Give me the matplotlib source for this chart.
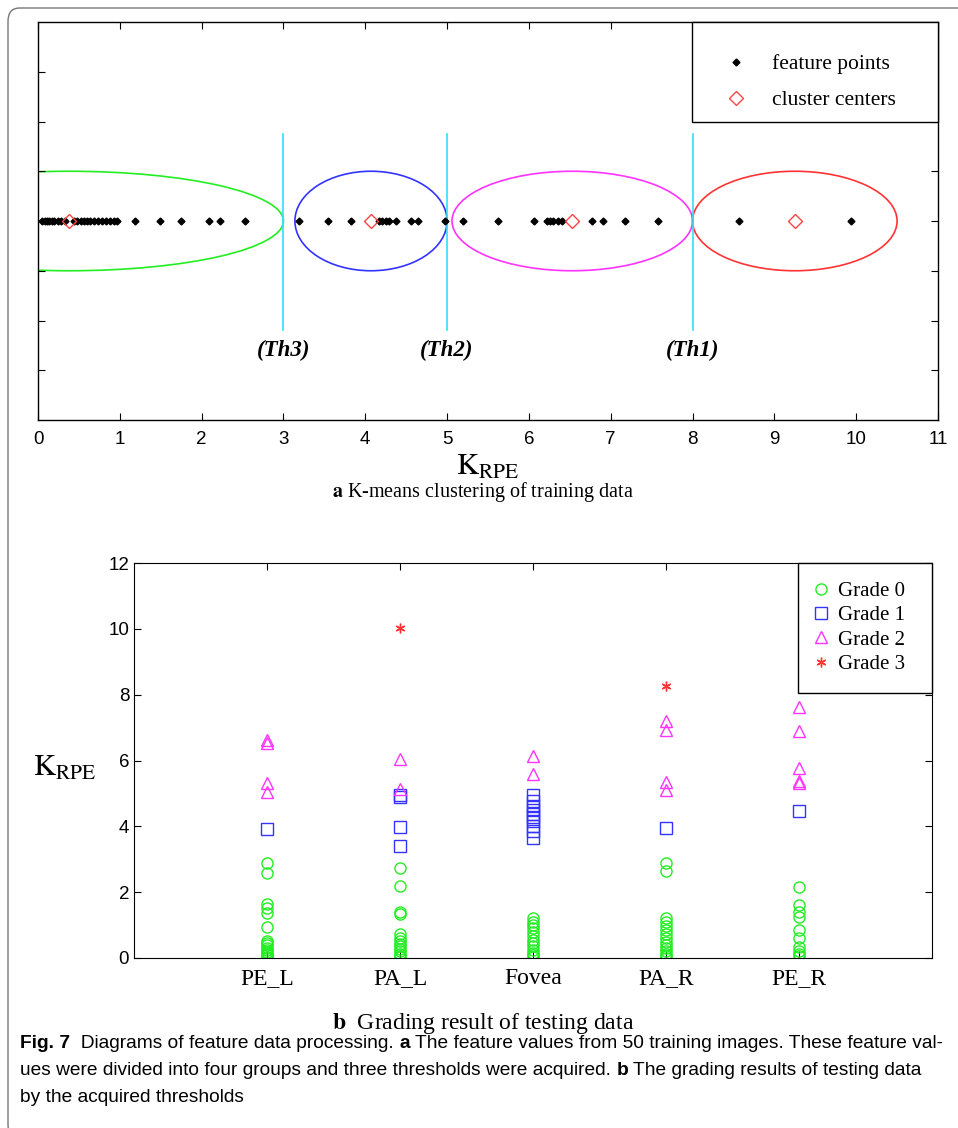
import numpy as np
import matplotlib.pyplot as plt
from matplotlib.patches import Ellipse, FancyBboxPatch

plt.rcParams['mathtext.fontset'] = 'stix'
serif = ['Liberation Serif', 'DejaVu Serif']
narrow = ['Liberation Sans Narrow', 'Liberation Sans', 'DejaVu Sans']

# ---- panel a data ----
feature_points = [0.05, 0.08, 0.11, 0.14, 0.17, 0.2, 0.24, 0.28, 0.33, 0.44, 0.48, 0.52,
                  0.56, 0.6, 0.64, 0.69, 0.73, 0.78, 0.83, 0.88, 0.93, 0.97,
                  1.19, 1.49, 1.75, 2.09, 2.23, 2.53,
                  3.19, 3.55, 3.83, 4.17, 4.21, 4.25, 4.29, 4.38, 4.56, 4.64, 4.98,
                  5.19, 5.62, 6.06, 6.22, 6.26, 6.30, 6.35, 6.40, 6.77, 6.90, 7.18, 7.58,
                  8.57, 9.94]
cluster_centers = [0.38, 4.07, 6.53, 9.25]
thresholds = [3.0, 5.0, 8.0]
threshold_names = ['Th3', 'Th2', 'Th1']
ellipse_colors = ['#22ee22', '#3333ff', '#ff33ff', '#ff3333']

# ---- panel b data ----
regions = ['PE_L', 'PA_L', 'Fovea', 'PA_R', 'PE_R']
grade0 = [
    [2.89, 2.57, 1.64, 1.52, 1.38, 0.95, 0.52, 0.45, 0.38, 0.31, 0.25, 0.19, 0.13, 0.08, 0.04, 0.01],
    [2.73, 2.20, 1.39, 1.34, 0.72, 0.62, 0.52, 0.43, 0.35, 0.27, 0.2, 0.13, 0.07, 0.02],
    [1.22, 1.1, 1.0, 0.9, 0.78, 0.66, 0.55, 0.45, 0.35, 0.25, 0.16, 0.08, 0.02],
    [2.88, 2.64, 1.22, 1.1, 0.98, 0.85, 0.72, 0.6, 0.5, 0.4, 0.3, 0.2, 0.12, 0.05, 0.01],
    [2.17, 1.61, 1.41, 1.26, 0.85, 0.6, 0.34, 0.22, 0.12, 0.05],
]
grade1 = [
    [3.92],
    [4.95, 4.88, 3.97, 3.40],
    [4.95, 4.78, 4.62, 4.5, 4.38, 4.28, 4.15, 4.02, 3.85, 3.65],
    [3.94],
    [4.47],
]
grade2 = [
    [6.63, 6.53, 5.32, 5.05],
    [6.04, 5.13],
    [6.15, 5.58],
    [7.2, 6.93, 5.36, 5.1],
    [7.62, 6.91, 5.77, 5.39, 5.31],
]
grade3 = [[], [10.03], [], [8.27], []]

W, H = 958, 1128
fig = plt.figure(figsize=(W / 100, H / 100), dpi=100)

def px_axes(l, t, r, b):
    return fig.add_axes([l / W, 1 - b / H, (r - l) / W, (b - t) / H])

# outer frame
fig.patches.append(FancyBboxPatch((8 / W, -10 / H), 1.2, 1130 / H, boxstyle='round,pad=0,rounding_size=0.012',
                                  transform=fig.transFigure, fill=False, ec='#777777', lw=1.0))

# ---------------- panel a ----------------
ax = px_axes(38, 22, 938, 420)
ax.set_xlim(0, 11)
ax.set_ylim(-4, 4)
for i, (c, col) in enumerate(zip(cluster_centers, ellipse_colors)):
    lower = thresholds[i - 1] if i > 0 else None
    upper = thresholds[i] if i < len(thresholds) else None
    half = min([abs(t - c) for t in (lower, upper) if t is not None])
    ax.add_patch(Ellipse((c, 0), 2 * half, 2, fill=False, ec=col, lw=1.2))
for t, name in zip(thresholds, threshold_names):
    ax.plot([t, t], [-2.2, 1.75], color='#33ddff', lw=1.2)
    ax.text(t, -2.6, '(%s)' % name, ha='center', va='center', fontsize=16.5, family=serif,
            style='italic', weight='bold')
ax.plot(feature_points, np.zeros(len(feature_points)), 'D', color='k', ms=3.5, ls='none', label='feature points')
ax.plot(cluster_centers, np.zeros(len(cluster_centers)), 'D', mfc='none', mec='#ff4444', ms=7, mew=1.0,
        ls='none', label='cluster centers')
ax.set_xticks(range(12))
ax.set_yticks(range(-3, 4))
ax.set_yticklabels([])
ax.tick_params(direction='in', top=True, right=True, length=5, width=0.8)
ax.tick_params(axis='x', pad=8)
for lab in ax.get_xticklabels():
    lab.set_family(narrow)
    lab.set_fontsize(13.5)
ax.set_xlabel(r'$\mathrm{K}_{\mathrm{RPE}}$', fontsize=22, labelpad=3)
leg = ax.legend(loc='upper right', bbox_to_anchor=((692 - 38) / 900, 0, (938 - 692) / 900, 1), mode='expand',
                borderaxespad=0, fancybox=False, edgecolor='k', prop={'family': serif, 'size': 15.5},
                handlelength=3.0, borderpad=0.55, labelspacing=0.75, handletextpad=0.15,
                title=' ', title_fontsize=3)
leg.get_frame().set_linewidth(1.0)
leg.get_frame().set_alpha(1)
for s in ax.spines.values():
    s.set_linewidth(1.0)
fig.text(483 / W, 1 - 492 / H, r'$\mathbf{a}$ K-means clustering of training data', ha='center', va='center',
         fontsize=14.5, family=serif)

# ---------------- panel b ----------------
bx = px_axes(134, 563, 932, 958)
bx.set_xlim(0, 6)
bx.set_ylim(0, 12)
xs = np.arange(1, len(regions) + 1)
styles = [(grade0, 'o', '#22ee22', 'Grade 0'), (grade1, 's', '#3333ff', 'Grade 1'),
          (grade2, '^', '#ff33ff', 'Grade 2'), (grade3, '*', '#ff3333', 'Grade 3')]
for data, m, col, lab in styles:
    px, py = [], []
    for x, vals in zip(xs, data):
        px += [x] * len(vals)
        py += vals
    if m == '*':
        bx.plot(px, py, ls='none', marker=(6, 2, 0), mec=col, ms=7, mew=1.0, label=lab)
    else:
        bx.plot(px, py, ls='none', marker=m, mfc='none', mec=col, ms=8, mew=1.0, label=lab)
bx.set_xticks(xs)
bx.set_xticklabels(regions, family=serif, fontsize=17)
bx.set_yticks(range(0, 13, 2))
for lab in bx.get_yticklabels():
    lab.set_family(narrow)
    lab.set_fontsize(13.5)
bx.tick_params(direction='in', top=True, right=True, length=5, width=0.8)
bx.tick_params(axis='x', pad=7)
leg2 = bx.legend(loc='upper right', bbox_to_anchor=((798 - 134) / 798, 0, (932 - 798) / 798, 1), mode='expand',
                 borderaxespad=0, fancybox=False, edgecolor='k', prop={'family': serif, 'size': 15},
                 handlelength=0.4, borderpad=0.9, labelspacing=0.22, handletextpad=0.6)
leg2.get_frame().set_linewidth(1.0)
leg2.get_frame().set_alpha(1)
fig.text(65 / W, 1 - 768 / H, r'$\mathrm{K}_{\mathrm{RPE}}$', ha='center', va='center', fontsize=22)
fig.text(483 / W, 1 - 1023 / H, r'$\mathbf{b}$  Grading result of testing data', ha='center', va='center',
         fontsize=17, family=serif)

# ---------------- caption ----------------
lines = [
    [('Fig. 7', 'bold'), ('  Diagrams of feature data processing. ', 'normal'), ('a', 'bold'),
     (' The feature values from 50 training images. These feature val-', 'normal')],
    [('ues were divided into four groups and three thresholds were acquired. ', 'normal'), ('b', 'bold'),
     (' The grading results of testing data', 'normal')],
    [('by the acquired thresholds', 'normal')],
]
fig.canvas.draw()
renderer = fig.canvas.get_renderer()
for i, parts in enumerate(lines):
    x = 20
    y = 1 - (1044 + 26.5 * i) / H
    for txt, wt in parts:
        t = fig.text(x / W, y, txt, ha='left', va='center', fontsize=13.8, family=narrow, weight=wt)
        x += t.get_window_extent(renderer).width

fig.savefig('out.png', dpi=100)
